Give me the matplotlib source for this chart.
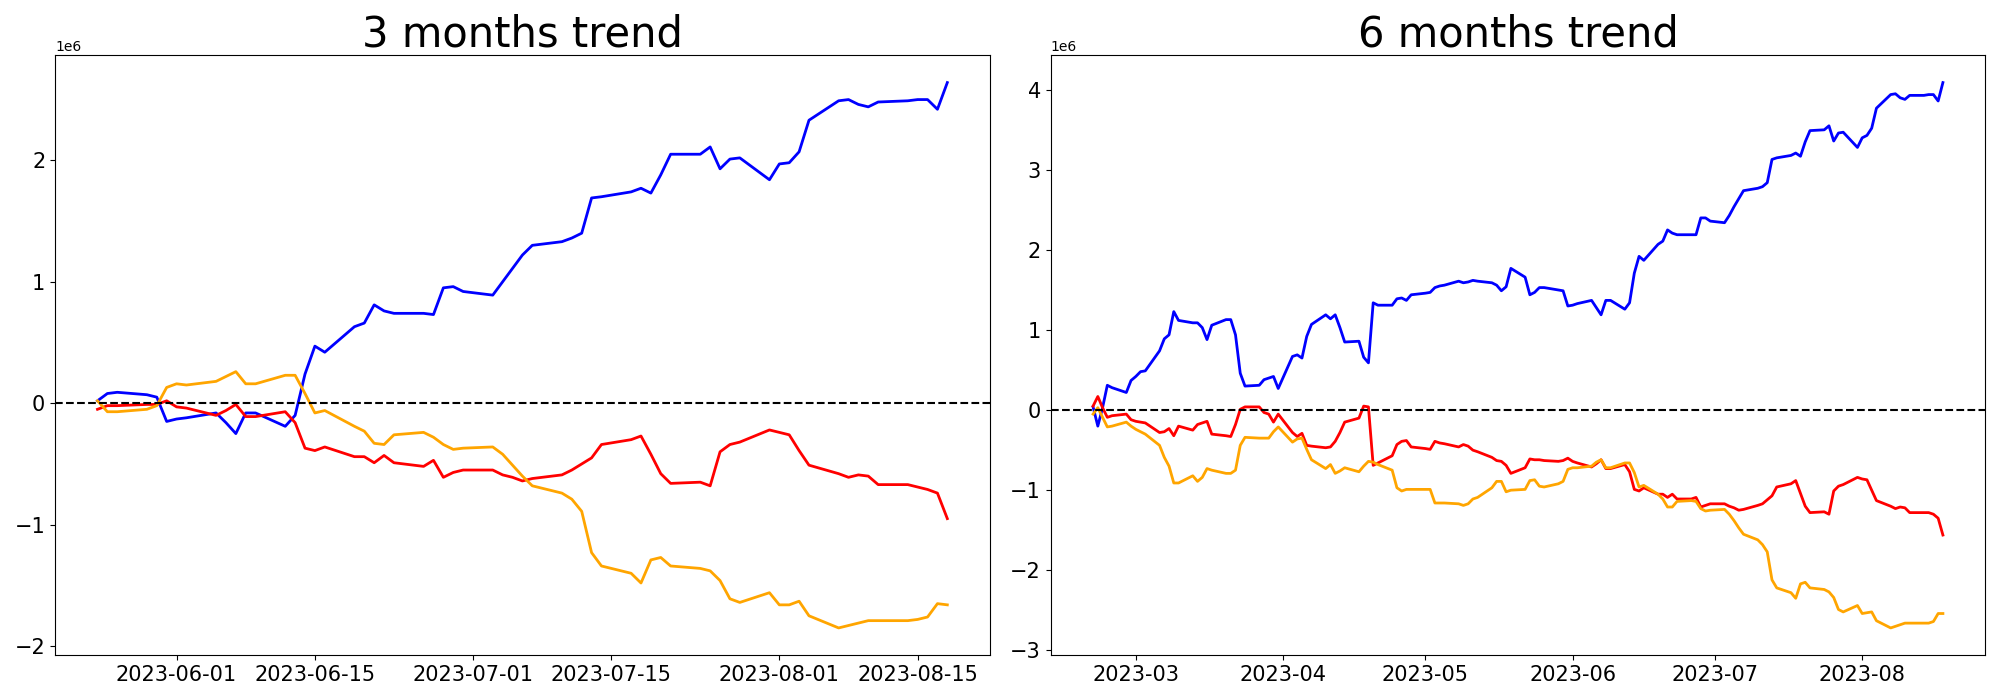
import matplotlib
matplotlib.use('Agg')
import matplotlib.pyplot as plt
import pandas as pd

# x axis: weekdays covered by each window
dates_3m = pd.bdate_range('2023-05-24', '2023-08-18')
dates_6m = pd.bdate_range('2023-02-20', '2023-08-18')

# 3 months window (values in units of 1e6)
blue_3m = [0.02, 0.08, 0.09, 0.07, 0.05, -0.15, -0.13, -0.12,
           -0.08, -0.16, -0.25, -0.08, -0.08,
           -0.19, -0.10, 0.24, 0.47, 0.42,
           0.63, 0.66, 0.81, 0.76, 0.74,
           0.74, 0.73, 0.95, 0.96, 0.92,
           0.89, 1.00, 1.11, 1.22, 1.30,
           1.33, 1.36, 1.40, 1.69, 1.70,
           1.74, 1.77, 1.73, 1.88, 2.05,
           2.05, 2.11, 1.93, 2.01, 2.02,
           1.84, 1.97, 1.98, 2.07, 2.33,
           2.49, 2.50, 2.46, 2.44, 2.48,
           2.49, 2.50, 2.50, 2.42, 2.64]
red_3m = [-0.05, -0.02, -0.02, -0.01, -0.01, 0.02, -0.03, -0.04,
          -0.10, -0.06, -0.01, -0.11, -0.11,
          -0.07, -0.16, -0.37, -0.39, -0.36,
          -0.44, -0.44, -0.49, -0.43, -0.49,
          -0.52, -0.47, -0.61, -0.57, -0.55,
          -0.55, -0.59, -0.61, -0.64, -0.62,
          -0.59, -0.55, -0.50, -0.45, -0.34,
          -0.30, -0.27, -0.42, -0.58, -0.66,
          -0.65, -0.68, -0.40, -0.34, -0.32,
          -0.22, -0.24, -0.26, -0.39, -0.51,
          -0.58, -0.61, -0.59, -0.60, -0.67,
          -0.67, -0.69, -0.71, -0.74, -0.95]
orange_3m = [0.02, -0.07, -0.07, -0.05, -0.02, 0.13, 0.16, 0.15,
             0.18, 0.22, 0.26, 0.16, 0.16,
             0.23, 0.23, 0.08, -0.08, -0.06,
             -0.19, -0.23, -0.33, -0.34, -0.26,
             -0.24, -0.28, -0.34, -0.38, -0.37,
             -0.36, -0.42, -0.51, -0.60, -0.68,
             -0.74, -0.79, -0.89, -1.23, -1.34,
             -1.40, -1.48, -1.29, -1.27, -1.34,
             -1.36, -1.38, -1.46, -1.61, -1.64,
             -1.56, -1.66, -1.66, -1.63, -1.75,
             -1.85, -1.83, -1.81, -1.79, -1.79,
             -1.79, -1.78, -1.76, -1.65, -1.66]

# 6 months window (values in units of 1e6)
blue_6m = [0.04, -0.20, 0.03, 0.31, 0.28,
           0.22, 0.37, 0.42, 0.48, 0.49,
           0.74, 0.89, 0.94, 1.23, 1.12,
           1.09, 1.09, 1.03, 0.88, 1.06,
           1.13, 1.13, 0.94, 0.46, 0.30,
           0.31, 0.38, 0.40, 0.42, 0.27,
           0.67, 0.69, 0.65, 0.92, 1.07,
           1.19, 1.14, 1.19, 1.03, 0.85,
           0.86, 0.66, 0.59, 1.34, 1.31,
           1.31, 1.39, 1.40, 1.37, 1.44,
           1.46, 1.47, 1.53, 1.55, 1.56,
           1.61, 1.59, 1.60, 1.62, 1.61,
           1.59, 1.56, 1.49, 1.54, 1.77,
           1.66, 1.44, 1.47, 1.53, 1.53,
           1.50, 1.49, 1.30, 1.31, 1.33,
           1.37, 1.28, 1.19, 1.37, 1.37,
           1.26, 1.34, 1.71, 1.92, 1.87,
           2.07, 2.11, 2.25, 2.21, 2.19,
           2.19, 2.19, 2.40, 2.40, 2.36,
           2.34, 2.43, 2.54, 2.64, 2.74,
           2.77, 2.79, 2.84, 3.13, 3.15,
           3.18, 3.21, 3.17, 3.35, 3.49,
           3.50, 3.55, 3.36, 3.46, 3.47,
           3.28, 3.40, 3.43, 3.52, 3.77,
           3.94, 3.95, 3.90, 3.88, 3.93,
           3.93, 3.94, 3.94, 3.86, 4.09]
red_6m = [0.05, 0.17, 0.03, -0.09, -0.07,
          -0.05, -0.12, -0.14, -0.15, -0.16,
          -0.28, -0.27, -0.23, -0.32, -0.20,
          -0.25, -0.18, -0.16, -0.14, -0.30,
          -0.32, -0.33, -0.18, 0.01, 0.04,
          0.04, -0.03, -0.05, -0.15, -0.05,
          -0.28, -0.33, -0.29, -0.44, -0.45,
          -0.47, -0.46, -0.39, -0.28, -0.15,
          -0.10, 0.05, 0.04, -0.69, -0.66,
          -0.57, -0.43, -0.39, -0.38, -0.46,
          -0.48, -0.49, -0.39, -0.41, -0.42,
          -0.46, -0.43, -0.45, -0.50, -0.52,
          -0.59, -0.63, -0.64, -0.69, -0.79,
          -0.72, -0.61, -0.62, -0.62, -0.63,
          -0.64, -0.63, -0.60, -0.64, -0.66,
          -0.71, -0.67, -0.62, -0.73, -0.73,
          -0.68, -0.77, -0.99, -1.01, -0.97,
          -1.05, -1.05, -1.09, -1.05, -1.11,
          -1.11, -1.09, -1.21, -1.19, -1.17,
          -1.17, -1.20, -1.22, -1.25, -1.24,
          -1.19, -1.17, -1.12, -1.07, -0.96,
          -0.92, -0.88, -1.04, -1.20, -1.28,
          -1.27, -1.30, -1.01, -0.95, -0.93,
          -0.84, -0.86, -0.87, -1.00, -1.13,
          -1.20, -1.23, -1.21, -1.22, -1.28,
          -1.28, -1.28, -1.30, -1.35, -1.56]
orange_6m = [-0.05, 0.03, -0.09, -0.21, -0.20,
             -0.15, -0.20, -0.24, -0.27, -0.30,
             -0.44, -0.59, -0.70, -0.91, -0.91,
             -0.82, -0.89, -0.84, -0.73, -0.75,
             -0.79, -0.79, -0.75, -0.44, -0.34,
             -0.35, -0.35, -0.35, -0.27, -0.21,
             -0.40, -0.36, -0.35, -0.49, -0.62,
             -0.73, -0.68, -0.79, -0.76, -0.72,
             -0.77, -0.70, -0.64, -0.65, -0.68,
             -0.75, -0.97, -1.01, -0.99, -0.99,
             -0.99, -0.99, -1.16, -1.16, -1.16,
             -1.17, -1.19, -1.17, -1.11, -1.09,
             -0.97, -0.89, -0.89, -1.02, -1.00,
             -0.99, -0.88, -0.87, -0.95, -0.96,
             -0.92, -0.89, -0.74, -0.72, -0.72,
             -0.70, -0.65, -0.62, -0.72, -0.72,
             -0.66, -0.66, -0.78, -0.96, -0.94,
             -1.05, -1.11, -1.21, -1.21, -1.14,
             -1.13, -1.14, -1.23, -1.26, -1.25,
             -1.24, -1.30, -1.38, -1.47, -1.55,
             -1.62, -1.68, -1.77, -2.12, -2.22,
             -2.28, -2.35, -2.17, -2.15, -2.22,
             -2.24, -2.27, -2.34, -2.49, -2.52,
             -2.44, -2.54, -2.53, -2.52, -2.63,
             -2.72, -2.70, -2.68, -2.66, -2.66,
             -2.66, -2.66, -2.64, -2.54, -2.54]

scale = 1e6

fig, axes = plt.subplots(1, 2, figsize=(20, 7))

panels = [
    (axes[0], dates_3m, blue_3m, red_3m, orange_3m, "3 months trend"),
    (axes[1], dates_6m, blue_6m, red_6m, orange_6m, "6 months trend"),
]

for ax, dates, blue, red, orange, title in panels:
    ax.plot(dates, [v * scale for v in blue], color='blue', linewidth=2)
    ax.plot(dates, [v * scale for v in red], color='red', linewidth=2)
    ax.plot(dates, [v * scale for v in orange], color='orange', linewidth=2)
    ax.axhline(0, color='black', linestyle='--', linewidth=1.5)
    ax.set_title(title, fontsize=30)
    ax.tick_params(labelsize=15)

fig.subplots_adjust(left=0.0275, right=0.9927, bottom=0.064, top=0.921, wspace=0.065)
fig.savefig('out.png', dpi=100)
